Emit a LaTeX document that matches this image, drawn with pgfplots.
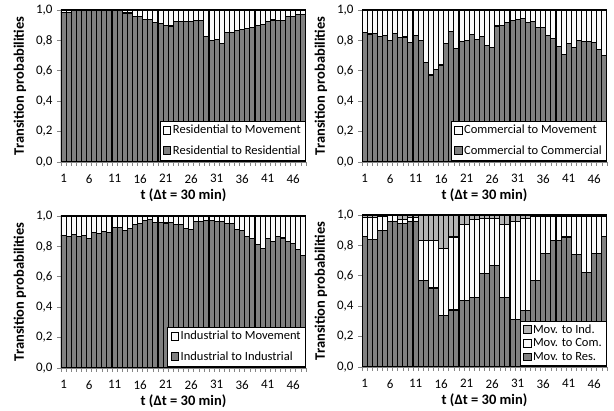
\documentclass[border=0pt]{standalone}
\usepackage{fontspec}
\setmainfont{Carlito}
\usepackage{pgfplots}
\usepackage{pgfplotstable}
\pgfplotsset{compat=1.18}

\definecolor{dk}{HTML}{808080}
\definecolor{lt}{HTML}{FAFAFA}
\definecolor{md}{HTML}{B4B4B4}
\definecolor{axc}{HTML}{868686}

\pgfplotstableread{
t a
1 0.985
2 0.985
3 1
4 1
5 1
6 1
7 1
8 1
9 1
10 1
11 1
12 1
13 0.98
14 0.98
15 0.958
16 0.958
17 0.937
18 0.937
19 0.918
20 0.913
21 0.90
22 0.895
23 0.925
24 0.925
25 0.925
26 0.925
27 0.93
28 0.93
29 0.825
30 0.80
31 0.805
32 0.78
33 0.853
34 0.849
35 0.864
36 0.87
37 0.88
38 0.886
39 0.899
40 0.906
41 0.925
42 0.934
43 0.932
44 0.932
45 0.958
46 0.958
47 0.969
48 0.969
}\resdata

\pgfplotstableread{
t a
1 0.853
2 0.842
3 0.847
4 0.827
5 0.83
6 0.80
7 0.845
8 0.817
9 0.822
10 0.787
11 0.833
12 0.797
13 0.656
14 0.572
15 0.607
16 0.638
17 0.778
18 0.857
19 0.748
20 0.792
21 0.797
22 0.838
23 0.806
24 0.827
25 0.768
26 0.752
27 0.895
28 0.90
29 0.92
30 0.93
31 0.935
32 0.945
33 0.92
34 0.925
35 0.885
36 0.885
37 0.83
38 0.81
39 0.76
40 0.71
41 0.78
42 0.755
43 0.80
44 0.795
45 0.79
46 0.785
47 0.74
48 0.70
}\comdata

\pgfplotstableread{
t a
1 0.871
2 0.864
3 0.877
4 0.864
5 0.869
6 0.853
7 0.892
8 0.886
9 0.897
10 0.892
11 0.925
12 0.925
13 0.906
14 0.919
15 0.945
16 0.952
17 0.969
18 0.975
19 0.956
20 0.958
21 0.954
22 0.958
23 0.944
24 0.944
25 0.92
26 0.91
27 0.965
28 0.965
29 0.97
30 0.97
31 0.965
32 0.965
33 0.95
34 0.95
35 0.91
36 0.905
37 0.865
38 0.85
39 0.815
40 0.785
41 0.85
42 0.83
43 0.865
44 0.855
45 0.835
46 0.82
47 0.78
48 0.74
}\inddata

\pgfplotstableread{
t res com ind
1 0.86 0.125 0.015
2 0.84 0.145 0.015
3 0.84 0.145 0.015
4 0.90 0.09 0.01
5 0.90 0.09 0.01
6 0.96 0.035 0.005
7 0.96 0.035 0.005
8 0.945 0.025 0.03
9 0.945 0.025 0.03
10 0.955 0.03 0.015
11 0.955 0.03 0.015
12 0.57 0.265 0.165
13 0.57 0.265 0.165
14 0.52 0.315 0.165
15 0.52 0.315 0.165
16 0.34 0.44 0.22
17 0.34 0.44 0.22
18 0.375 0.48 0.145
19 0.375 0.48 0.145
20 0.44 0.50 0.06
21 0.44 0.50 0.06
22 0.46 0.51 0.03
23 0.46 0.51 0.03
24 0.615 0.36 0.025
25 0.615 0.36 0.025
26 0.67 0.305 0.025
27 0.67 0.305 0.025
28 0.455 0.48 0.065
29 0.455 0.48 0.065
30 0.315 0.645 0.04
31 0.315 0.645 0.04
32 0.37 0.605 0.025
33 0.37 0.605 0.025
34 0.57 0.42 0.01
35 0.57 0.42 0.01
36 0.745 0.245 0.01
37 0.745 0.245 0.01
38 0.835 0.155 0.01
39 0.835 0.155 0.01
40 0.855 0.135 0.01
41 0.855 0.135 0.01
42 0.74 0.25 0.01
43 0.74 0.25 0.01
44 0.62 0.37 0.01
45 0.62 0.37 0.01
46 0.745 0.245 0.01
47 0.745 0.245 0.01
48 0.86 0.13 0.01
}\movdata

\pgfplotsset{panel/.style={
  width=245pt, height=152pt, scale only axis,
  ybar stacked, bar width=1,
  xmin=0.5, xmax=48.5, ymin=0, ymax=1,
  axis x line*=bottom, axis y line*=left,
  axis line style={axc, line width=0.8pt},
  tick style={axc, line width=0.6pt},
  tick align=outside, major tick length=0pt, minor tick length=4pt,
  xtick={1,6,...,46},
  minor xtick={0.5,1.5,...,48.5},
  ytick={0,0.2,0.4,0.6,0.8,1},
  minor ytick={0,0.2,0.4,0.6,0.8,1},
  /pgf/number format/.cd, fixed, fixed zerofill, precision=1, use comma, assume math mode=true, /pgfplots/.cd,
  tick label style={font=\fontsize{13}{15}\selectfont},
  xticklabel style={/pgf/number format/precision=0, /pgf/number format/fixed zerofill=false, yshift=-9pt},
  yticklabel style={xshift=-5pt},
  ylabel={Transition probabilities},
  xlabel={t (Δt = 30 min)},
  label style={font=\fontsize{14.5}{16}\selectfont\bfseries},
  xlabel style={at={(axis description cs:0.5,0)}, anchor=center, yshift=-33pt},
  ylabel style={yshift=3pt},
  every axis plot/.append style={draw=black, line width=1.1pt},
  legend style={at={(1,0.01)}, anchor=south east, draw=black, line width=0.6pt,
    font=\fontsize{12.5}{14}\selectfont, fill=white, inner xsep=3pt, inner ysep=2.5pt, row sep=6pt},
  legend cell align=left,
  reverse legend,
  legend image code/.code={\draw[#1, draw=black, line width=0.5pt] (0pt,-3.5pt) rectangle (7.5pt,4pt);},
}}

\begin{document}
\begin{tikzpicture}
\begin{axis}[panel, at={(61pt,249pt)}, anchor=south west]
\addplot[fill=dk] table[x=t, y=a] {\resdata};
\addplot[fill=lt] table[x=t, y expr=1-\thisrow{a}] {\resdata};
\legend{Residential to Residential, Residential to Movement}
\end{axis}
\begin{axis}[panel, at={(362pt,249pt)}, anchor=south west]
\addplot[fill=dk] table[x=t, y=a] {\comdata};
\addplot[fill=lt] table[x=t, y expr=1-\thisrow{a}] {\comdata};
\legend{Commercial to Commercial, Commercial to Movement}
\end{axis}
\begin{axis}[panel, at={(61pt,43pt)}, anchor=south west]
\addplot[fill=dk] table[x=t, y=a] {\inddata};
\addplot[fill=lt] table[x=t, y expr=1-\thisrow{a}] {\inddata};
\legend{Industrial to Industrial, Industrial to Movement}
\end{axis}
\begin{axis}[panel, at={(362pt,44pt)}, anchor=south west, legend style={row sep=0pt, inner ysep=1.5pt}]
\addplot[fill=dk] table[x=t, y=res] {\movdata};
\addplot[fill=lt] table[x=t, y=com] {\movdata};
\addplot[fill=md] table[x=t, y=ind] {\movdata};
\legend{Mov. to Res., Mov. to Com., Mov. to Ind.}
\end{axis}
\pgfresetboundingbox
\path[use as bounding box] (0,0) rectangle (614pt,411pt);
\end{tikzpicture}
\end{document}
